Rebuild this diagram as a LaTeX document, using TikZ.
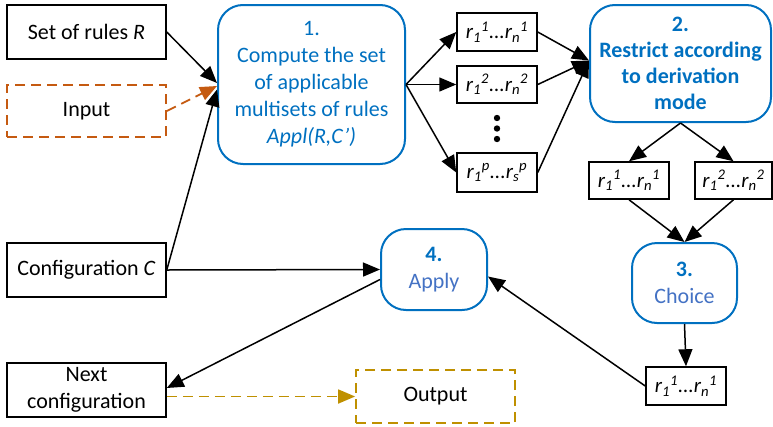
\documentclass[tikz,border=0pt]{standalone}
\usepackage{fontspec}
\setmainfont{Carlito}
\usetikzlibrary{arrows.meta,calc}
\definecolor{bblue}{HTML}{0070C0}
\definecolor{lblue}{HTML}{4472C4}
\definecolor{orng}{HTML}{C55A11}
\definecolor{gold}{HTML}{BF9000}
\newcommand{\rr}[3]{\textit{r\textsubscript{1}\textsuperscript{#1}...r\textsubscript{#2}\textsuperscript{#3}}}
\begin{document}
\begin{tikzpicture}[x=1pt,y=-1pt,
  every node/.style={font=\fontsize{22}{27}\selectfont, inner sep=0pt, align=center},
  plain/.style={draw=black, line width=1.5pt, minimum width=159pt, minimum height=54pt},
  rbox/.style={draw=black, line width=1.5pt, minimum width=80pt, minimum height=38pt, font=\fontsize{21}{25}\selectfont},
  stage/.style={draw=bblue, line width=2pt, rounded corners=25pt, text=bblue},
  arr/.style={-{Triangle[length=17pt,width=14pt]}, line width=1.5pt},
  dashline/.style={dash pattern=on 10pt off 6pt, line width=1.8pt}
]
\useasboundingbox (0,0) rectangle (773,426);

\node[plain] (setR) at (86.5,32) {Set of rules \textit{R}};
\node[plain, draw=orng, dashline, minimum height=52pt] (input) at (86.5,111) {Input};
\node[plain] (conf) at (86.5,270) {Configuration \textit{C}};
\node[plain] (next) at (86.5,390) {Next\\configuration};
\node[plain, draw=gold, dashline, minimum height=53pt] (output) at (435.5,396.5) {Output};

\node[stage, minimum width=187pt, minimum height=159pt] (b1) at (311.5,84.5)
  {1.\\Compute the set\\of applicable\\multisets of rules\\\textit{Appl(R,C’)}};
\node[stage, minimum width=181pt, minimum height=117pt, font=\fontsize{22}{26}\selectfont\bfseries] (b2) at (680.5,63.5)
  {2.\\Restrict according\\to derivation\\mode};
\node[stage, minimum width=105pt, minimum height=80pt] (b3) at (684.5,283)
  {\textbf{3.}\\\textcolor{lblue}{Choice}};
\node[stage, minimum width=106pt, minimum height=81pt] (b4) at (434,269.5)
  {\textbf{4.}\\\textcolor{lblue}{Apply}};

\node[rbox] (r1) at (497,32) {\rr{1}{n}{1}};
\node[rbox, minimum height=37pt] (r2) at (497,84.5) {\rr{2}{n}{2}};
\node[rbox, minimum height=39pt] (rp) at (497,172.5) {\rr{p}{s}{p}};
\node[rbox, minimum height=37pt] (m1) at (629,180.5) {\rr{1}{n}{1}};
\node[rbox, minimum height=37pt, minimum width=77pt] (m2) at (733.5,180.5) {\rr{2}{n}{2}};
\node[rbox] (rb) at (686,386) {\rr{1}{n}{1}};

\foreach \yy/\nm in {118/d1,128.5/d2,139/d3}
  \fill (497,\yy) circle (3.2pt) coordinate (\nm);

% inputs to stage 1
\draw[arr] (setR.east) -- ([yshift=1.5pt]b1.west);
\draw[arr, draw=orng, dashline, -{Triangle[length=17pt,width=14pt,fill=orng]}] (input.east) -- ([yshift=-1.5pt]b1.west);
\draw[arr] (conf.east) -- ([yshift=-5pt]b1.west);
\draw[arr] (conf.east) -- (b4.west);
\draw[arr] ([yshift=-10pt]b4.west) -- ([yshift=2pt]next.east);
\draw[arr, draw=gold, dashline, -{Triangle[length=17pt,width=14pt,fill=gold]}] ([yshift=-6.5pt]next.east) -- (output.west);

% fan out from stage 1
\draw[arr] (b1.east) -- (r1.west);
\draw[arr] (b1.east) -- (r2.west);
\draw[arr] (b1.east) -- (rp.west);
\draw[arr] (r1.east) -- ([yshift=3pt]b2.west);
\draw[arr] (r2.east) -- ([yshift=3pt]b2.west);
\draw[arr] (rp.east) -- ([yshift=3pt]b2.west);

% stage 2 to choice
\draw[arr] (b2.south) -- (m1.north);
\draw[arr] (b2.south) -- (m2.north);
\draw[arr] (m1.south) -- (b3.north);
\draw[arr] (m2.south) -- (b3.north);
\draw[arr] (b3.south) -- (rb.north);
\draw[arr] (rb.west) -- ([yshift=-7pt]b4.east);
\end{tikzpicture}
\end{document}
